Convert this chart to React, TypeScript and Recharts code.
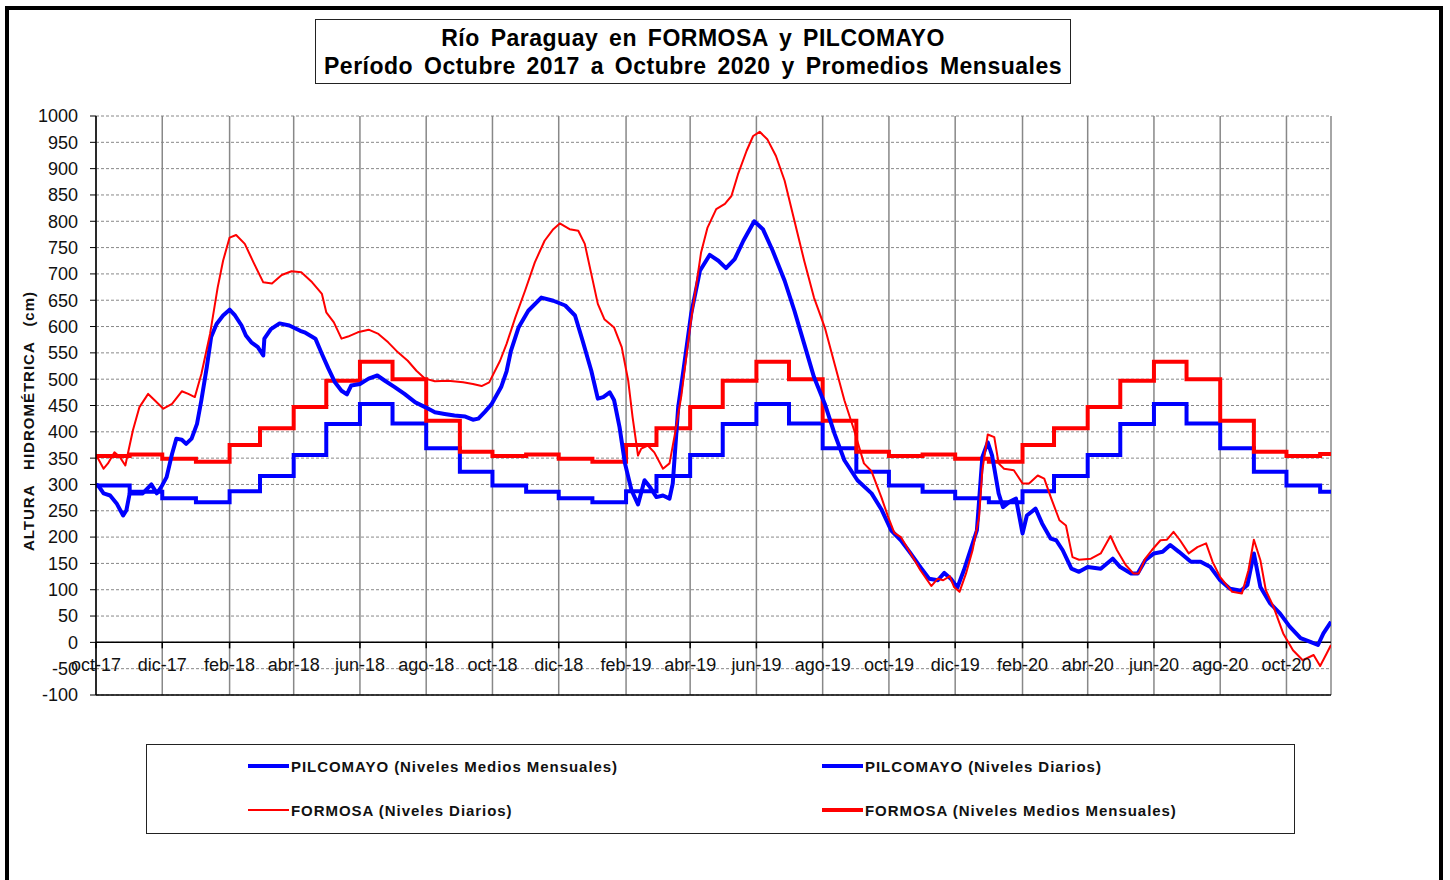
import React from "react";
import { LineChart, Line, XAxis, YAxis, CartesianGrid, ReferenceLine } from "recharts";

// days counted from 1 Oct 2017
const pilcoDays = [0, 2, 7, 13, 19, 25, 28, 31, 37, 43, 51, 56, 60, 65, 70, 74, 79, 83, 88, 93, 97, 102, 106, 111, 117, 123, 128, 134, 138, 143, 149, 154, 155, 161, 169, 178, 188, 192, 202, 208, 214, 220, 226, 231, 235, 243, 251, 259, 266, 275, 284, 294, 303, 312, 321, 330, 340, 347, 352, 358, 364, 373, 378, 382, 389, 398, 410, 421, 432, 441, 448, 456, 462, 467, 473, 477, 482, 487, 493, 499, 505, 510, 516, 522, 528, 531, 536, 541, 548, 556, 565, 573, 580, 588, 596, 606, 614, 623, 634, 643, 652, 661, 671, 680, 689, 701, 714, 723, 732, 741, 750, 759, 767, 775, 781, 787, 793, 799, 805, 811, 816, 821, 825, 831, 835, 841, 847, 853, 857, 865, 871, 879, 884, 890, 898, 905, 913, 925, 936, 943, 953, 959, 966, 974, 982, 989, 997, 1008, 1017, 1026, 1035, 1044, 1054, 1060, 1066, 1072, 1081, 1090, 1099, 1109, 1118, 1125, 1130, 1137];
const pilcoLevels = [300, 298, 283, 279, 264, 241, 251, 283, 283, 283, 300, 283, 295, 314, 358, 387, 385, 377, 387, 415, 460, 523, 580, 605, 621, 632, 621, 602, 583, 570, 561, 545, 577, 595, 606, 602, 592, 589, 577, 548, 520, 494, 478, 471, 488, 491, 501, 507, 497, 485, 472, 456, 447, 437, 434, 431, 429, 423, 425, 438, 452, 485, 515, 554, 598, 630, 655, 649, 640, 621, 573, 516, 463, 466, 475, 460, 409, 340, 289, 262, 308, 295, 276, 279, 273, 302, 447, 520, 625, 706, 736, 725, 711, 728, 763, 800, 785, 744, 687, 630, 567, 504, 453, 396, 346, 308, 283, 253, 213, 194, 169, 143, 121, 118, 132, 121, 104, 137, 175, 213, 352, 380, 355, 283, 257, 267, 273, 207, 241, 254, 226, 197, 194, 175, 140, 134, 143, 140, 159, 143, 131, 131, 156, 169, 172, 185, 172, 153, 153, 143, 118, 102, 98, 109, 169, 105, 74, 55, 30, 8, 1, -5, 17, 39];

const formosaDays = [0, 2, 7, 11, 17, 22, 27, 30, 34, 40, 48, 54, 62, 70, 79, 85, 91, 97, 105, 112, 117, 123, 129, 137, 145, 154, 162, 171, 180, 189, 199, 208, 212, 219, 226, 232, 241, 251, 260, 269, 278, 287, 295, 303, 312, 324, 338, 347, 355, 362, 372, 378, 386, 395, 404, 413, 421, 427, 436, 444, 450, 456, 462, 468, 477, 484, 490, 494, 499, 502, 508, 514, 522, 528, 533, 539, 547, 557, 563, 571, 579, 585, 591, 599, 605, 611, 618, 626, 634, 643, 652, 661, 671, 680, 689, 698, 707, 714, 720, 723, 729, 735, 741, 750, 759, 769, 775, 780, 786, 790, 795, 801, 807, 813, 816, 821, 827, 831, 836, 845, 853, 859, 867, 873, 879, 887, 893, 899, 905, 916, 925, 934, 940, 948, 955, 960, 966, 972, 980, 986, 992, 998, 1006, 1014, 1022, 1028, 1035, 1046, 1055, 1061, 1066, 1072, 1077, 1084, 1093, 1102, 1111, 1121, 1127, 1133, 1137];
const formosaLevels = [352, 349, 330, 340, 361, 352, 336, 365, 403, 447, 472, 460, 444, 453, 477, 472, 466, 510, 586, 674, 725, 769, 774, 757, 722, 684, 682, 698, 705, 703, 684, 662, 627, 608, 577, 581, 589, 594, 586, 570, 551, 535, 516, 501, 496, 497, 494, 491, 487, 494, 535, 567, 617, 668, 722, 763, 785, 796, 785, 782, 757, 700, 643, 614, 598, 561, 497, 428, 355, 368, 374, 361, 330, 340, 396, 470, 600, 740, 788, 823, 833, 848, 889, 934, 962, 970, 956, 924, 877, 801, 725, 655, 598, 529, 460, 403, 340, 325, 292, 276, 240, 208, 200, 169, 137, 107, 121, 118, 126, 105, 96, 131, 175, 238, 327, 395, 390, 340, 330, 327, 302, 302, 317, 311, 276, 232, 222, 162, 157, 159, 169, 202, 175, 147, 131, 131, 159, 175, 194, 195, 210, 194, 169, 181, 188, 153, 124, 96, 93, 137, 195, 156, 99, 68, 17, -15, -34, -24, -45, -21, -5];

// monthly means, Oct 2017 .. Nov 2020
const months = [
  "2017-10", "2017-11", "2017-12", "2018-01", "2018-02", "2018-03", "2018-04", "2018-05", "2018-06", "2018-07", "2018-08", "2018-09",
  "2018-10", "2018-11", "2018-12", "2019-01", "2019-02", "2019-03", "2019-04", "2019-05", "2019-06", "2019-07", "2019-08", "2019-09",
  "2019-10", "2019-11", "2019-12", "2020-01", "2020-02", "2020-03", "2020-04", "2020-05", "2020-06", "2020-07", "2020-08", "2020-09",
  "2020-10", "2020-11",
];
const pilcoMonthly = [
  298, 286, 274, 266, 287, 316, 356, 415, 453, 416, 369, 324,
  298, 286, 274, 266, 287, 316, 356, 415, 453, 416, 369, 324,
  298, 286, 274, 266, 287, 316, 356, 415, 453, 416, 369, 324,
  298, 286,
];
const formosaMonthly = [
  354, 357, 349, 343, 375, 407, 447, 497, 533, 500, 421, 362,
  354, 357, 349, 343, 375, 407, 447, 497, 533, 500, 421, 362,
  354, 357, 349, 343, 375, 407, 447, 497, 533, 500, 421, 362,
  354, 358,
];

const tickMonths = ["2017-10", "2017-12", "2018-02", "2018-04", "2018-06", "2018-08", "2018-10", "2018-12", "2019-02", "2019-04", "2019-06", "2019-08", "2019-10", "2019-12", "2020-02", "2020-04", "2020-06", "2020-08", "2020-10"];
const monthNames = ["ene", "feb", "mar", "abr", "may", "jun", "jul", "ago", "sep", "oct", "nov", "dic"];
const yTicks = [-100, -50, 0, 50, 100, 150, 200, 250, 300, 350, 400, 450, 500, 550, 600, 650, 700, 750, 800, 850, 900, 950, 1000];

const END_DAY = 1137;
const BLUE = "#0000ff";
const RED = "#ff0000";
const FONT = '"Liberation Sans", Arial, sans-serif';

const PLOT_TOP = 116;
const PLOT_BOTTOM = 695;
const ZERO_Y = PLOT_TOP + ((PLOT_BOTTOM - PLOT_TOP) * 1000) / 1100;

const dayOf = (m: string) => {
  const [y, mo] = m.split("-").map(Number);
  return Math.round((Date.UTC(y, mo - 1, 1) - Date.UTC(2017, 9, 1)) / 86400000);
};

const pilcoDaily = pilcoDays.map((d, i) => ({ d, v: pilcoLevels[i] }));
const formosaDaily = formosaDays.map((d, i) => ({ d, v: formosaLevels[i] }));
const pilcoSteps = [...months.map((m, i) => ({ d: dayOf(m), v: pilcoMonthly[i] })), { d: END_DAY, v: pilcoMonthly[pilcoMonthly.length - 1] }];
const formosaSteps = [...months.map((m, i) => ({ d: dayOf(m), v: formosaMonthly[i] })), { d: END_DAY, v: formosaMonthly[formosaMonthly.length - 1] }];

const xTicks = tickMonths.map(dayOf);
const minorTicks: number[] = [];
for (let d = 7; d < END_DAY; d += 7) minorTicks.push(d);

const labelOf = (day: number) => {
  const m = tickMonths[xTicks.indexOf(day)];
  if (!m) return "";
  const [y, mo] = m.split("-");
  return `${monthNames[Number(mo) - 1]}-${y.slice(2)}`;
};

const MonthTick = (props: any) => {
  const { x, payload } = props;
  return (
    <g>
      <line x1={x} x2={x} y1={ZERO_Y} y2={ZERO_Y + 6} stroke="#000" strokeWidth={1.5} />
      <text x={x} y={ZERO_Y + 29} textAnchor="middle" fontSize={18} fill="#111" fontFamily={FONT}>
        {labelOf(payload.value)}
      </text>
    </g>
  );
};

const MinorTick = (props: any) => {
  const { x } = props;
  return <line x1={x} x2={x} y1={ZERO_Y} y2={ZERO_Y - 5} stroke="#000" strokeWidth={1} />;
};

const legendItems = [
  { label: "PILCOMAYO (Niveles Medios Mensuales)", color: BLUE, w: 4, left: 248, top: 766 },
  { label: "PILCOMAYO (Niveles Diarios)", color: BLUE, w: 4, left: 822, top: 766 },
  { label: "FORMOSA (Niveles Diarios)", color: RED, w: 2, left: 248, top: 810 },
  { label: "FORMOSA (Niveles Medios Mensuales)", color: RED, w: 4, left: 822, top: 810 },
];

export default function App() {
  return (
    <div style={{ position: "absolute", left: 0, top: 0, width: 1450, height: 880, background: "#fff", overflow: "hidden", fontFamily: FONT }}>
      <div style={{ position: "absolute", left: 5, top: 6, width: 1438, height: 900, border: "4px solid #000", boxSizing: "border-box" }} />

      <div style={{ position: "absolute", left: 315, top: 19, width: 756, height: 65, border: "1.5px solid #222", boxSizing: "border-box", textAlign: "center", fontWeight: 700, fontSize: 23, lineHeight: "28px", paddingTop: 4, color: "#000", letterSpacing: 0.5, wordSpacing: 4, whiteSpace: "nowrap" }}>
        <div>Río Paraguay en FORMOSA y PILCOMAYO</div>
        <div>Período Octubre 2017 a Octubre 2020 y Promedios Mensuales</div>
      </div>

      <div style={{ position: "absolute", left: 28, top: 421, transform: "translate(-50%, -50%) rotate(-90deg)", whiteSpace: "nowrap", fontWeight: 700, fontSize: 15, letterSpacing: 1, wordSpacing: 10, color: "#111" }}>
        ALTURA HIDROMÉTRICA (cm)
      </div>

      <div style={{ position: "absolute", left: 0, top: 0 }}>
        <LineChart width={1450} height={880} margin={{ top: PLOT_TOP, right: 119, bottom: 880 - PLOT_BOTTOM - 20, left: 36 }}>
          <CartesianGrid xAxisId="main" yAxisId="left" vertical={false} stroke="#888" strokeDasharray="3 2" />
          <CartesianGrid xAxisId="main" yAxisId="left" horizontal={false} stroke="#888" strokeWidth={1.5} />
          <XAxis
            xAxisId="main"
            dataKey="d"
            type="number"
            domain={[0, END_DAY]}
            ticks={xTicks}
            interval={0}
            allowDataOverflow
            height={20}
            axisLine={{ stroke: "#000", strokeWidth: 1.5 }}
            tickLine={false}
            tick={<MonthTick />}
          />
          <XAxis
            xAxisId="minor"
            dataKey="d"
            type="number"
            domain={[0, END_DAY]}
            ticks={minorTicks}
            interval={0}
            height={0}
            axisLine={false}
            tickLine={false}
            tick={<MinorTick />}
          />
          <XAxis xAxisId="top" orientation="top" type="number" domain={[0, END_DAY]} height={0} tick={false} tickLine={false} axisLine={{ stroke: "#000", strokeWidth: 1.5 }} />
          <YAxis
            yAxisId="left"
            type="number"
            domain={[-100, 1000]}
            ticks={yTicks}
            interval={0}
            width={60}
            tickSize={6}
            tickMargin={12}
            axisLine={{ stroke: "#000", strokeWidth: 1.5 }}
            tickLine={{ stroke: "#000" }}
            tick={{ fontSize: 18, fill: "#111", fontFamily: FONT }}
          />
          <YAxis yAxisId="right" orientation="right" type="number" domain={[-100, 1000]} width={0} tick={false} tickLine={false} axisLine={{ stroke: "#000", strokeWidth: 1.5 }} />
          <ReferenceLine xAxisId="main" yAxisId="left" y={0} stroke="#000" strokeWidth={1.5} />
          <Line xAxisId="main" yAxisId="left" data={pilcoSteps} dataKey="v" type="stepAfter" stroke={BLUE} strokeWidth={4} dot={false} activeDot={false} isAnimationActive={false} />
          <Line xAxisId="main" yAxisId="left" data={formosaSteps} dataKey="v" type="stepAfter" stroke={RED} strokeWidth={4} dot={false} activeDot={false} isAnimationActive={false} />
          <Line xAxisId="main" yAxisId="left" data={pilcoDaily} dataKey="v" type="linear" stroke={BLUE} strokeWidth={4} strokeLinejoin="round" dot={false} activeDot={false} isAnimationActive={false} />
          <Line xAxisId="main" yAxisId="left" data={formosaDaily} dataKey="v" type="linear" stroke={RED} strokeWidth={2} strokeLinejoin="round" dot={false} activeDot={false} isAnimationActive={false} />
        </LineChart>
      </div>

      <div style={{ position: "absolute", left: 146, top: 744, width: 1149, height: 90, border: "1.5px solid #222", boxSizing: "border-box" }} />
      {legendItems.map((it) => (
        <div key={it.label} style={{ position: "absolute", left: it.left, top: it.top - 10, height: 20, display: "flex", alignItems: "center", whiteSpace: "nowrap" }}>
          <div style={{ width: 41, height: it.w, background: it.color, marginRight: 2 }} />
          <span style={{ fontWeight: 700, fontSize: 15, letterSpacing: 0.95, color: "#111" }}>{it.label}</span>
        </div>
      ))}
    </div>
  );
}
